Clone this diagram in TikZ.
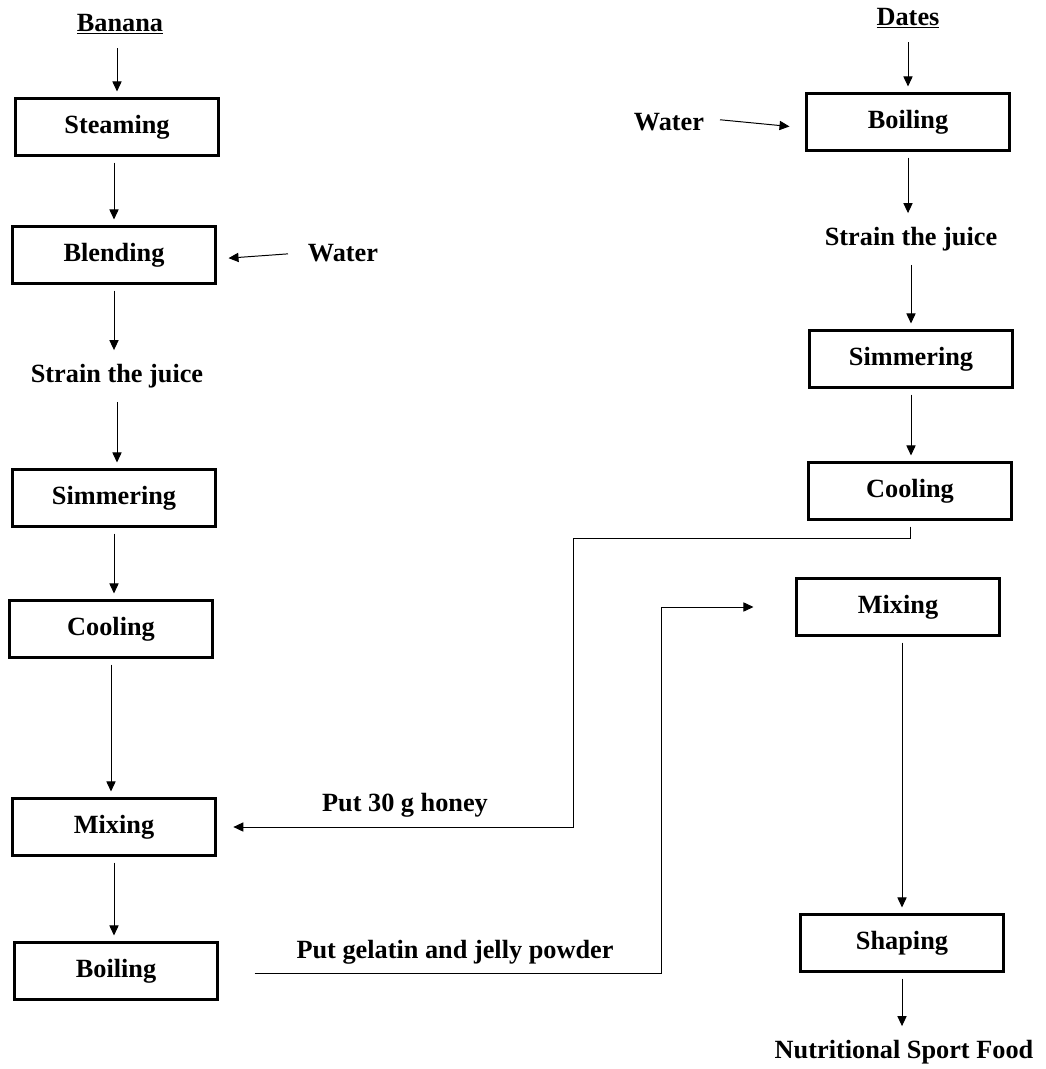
\documentclass[tikz,border=0pt]{standalone}
\usepackage{fontspec}
\setmainfont{Liberation Serif}
\usetikzlibrary{arrows.meta}

\tikzset{
    stage/.style={draw, line width=1.5pt, minimum width=50.75mm, minimum height=14.25mm,
        inner sep=0pt, font=\fontsize{18.7}{22}\selectfont\bfseries},
    txt/.style={inner sep=0.5mm, outer sep=1.5mm, font=\fontsize{18.7}{22}\selectfont\bfseries},
    flow/.style={-{Triangle[length=2.5mm,width=2.3mm]}, line width=0.7pt,
        shorten <=1.5mm, shorten >=1.5mm},
}

\begin{document}
\begin{tikzpicture}[x=0.25mm, y=-0.25mm]
        \useasboundingbox (0,0) rectangle (1046,1069);
        % banana line
        \node [txt] (banana) at (120,24) {\underline{Banana}};
        \node [stage] (steamL) at (117,127) {Steaming};
        \node [stage] (blendL) at (114,255) {Blending};
        \node [txt] (waterL) at (343,253) {Water};
        \node [txt] (strainL) at (117,376) {Strain the juice};
        \node [stage] (simmerL) at (114,498) {Simmering};
        \node [stage] (coolL) at (111,629) {Cooling};
        \node [stage] (mixL) at (114,827) {Mixing};
        \node [stage] (boilL) at (116,971) {Boiling};
        % dates line
        \node [txt] (dates) at (908,18) {\underline{Dates}};
        \node [stage] (boilR) at (908,122) {Boiling};
        \node [txt] (waterR) at (669,122) {Water};
        \node [txt] (strainR) at (911,239) {Strain the juice};
        \node [stage] (simmerR) at (911,359) {Simmering};
        \node [stage] (coolR) at (910,491) {Cooling};
        \node [stage] (mixR) at (898,607) {Mixing};
        \node [stage] (shapeR) at (902,943) {Shaping};
        \node [txt] (food) at (904,1052) {Nutritional Sport Food};
        % side inputs
        \node [txt] (honey) at (405,805) {Put 30 g honey};
        \node [txt] (gelatin) at (455,952) {Put gelatin and jelly powder};
        \coordinate (h1) at (573,538);
        \coordinate (g1) at (661,973);
        \draw [flow] (banana.south -| steamL) -- (steamL.north);
        \draw [flow] (steamL.south -| blendL) -- (blendL.north);
        \draw [flow, shorten <=3mm, shorten >=3mm] (waterL.west) -- ([yshift=-1mm]blendL.east);
        \draw [flow] (blendL.south) -- (blendL.south |- strainL.north);
        \draw [flow] (strainL.south) -- (strainL.south |- simmerL.north);
        \draw [flow] (simmerL.south) -- (simmerL.south |- coolL.north);
        \draw [flow] (coolL.south) -- (coolL.south |- mixL.north);
        \draw [flow] (mixL.south) -- (mixL.south |- boilL.north);
        \draw [flow] (dates.south) -- (dates.south |- boilR.north);
        \draw [flow, shorten <=2mm, shorten >=4mm] ([yshift=0.75mm]waterR.east) -- ([yshift=-1.5mm]boilR.west);
        \draw [flow] (boilR.south) -- (boilR.south |- strainR.north);
        \draw [flow] (strainR.south) -- (strainR.south |- simmerR.north);
        \draw [flow] (simmerR.south) -- (simmerR.south |- coolR.north);
        \draw [flow] (shapeR.north |- mixR.south) -- (shapeR.north);
        \draw [flow] (shapeR.south) -- (shapeR.south |- food.north);
        \draw [flow, shorten >=4.2mm] (coolR.south) |- (h1) |- (mixL.east);
        \draw [flow, shorten <=9mm, shorten >=10.5mm] (boilL.east |- g1) -- (g1) |- (mixR.west);
    \end{tikzpicture}
\end{document}
